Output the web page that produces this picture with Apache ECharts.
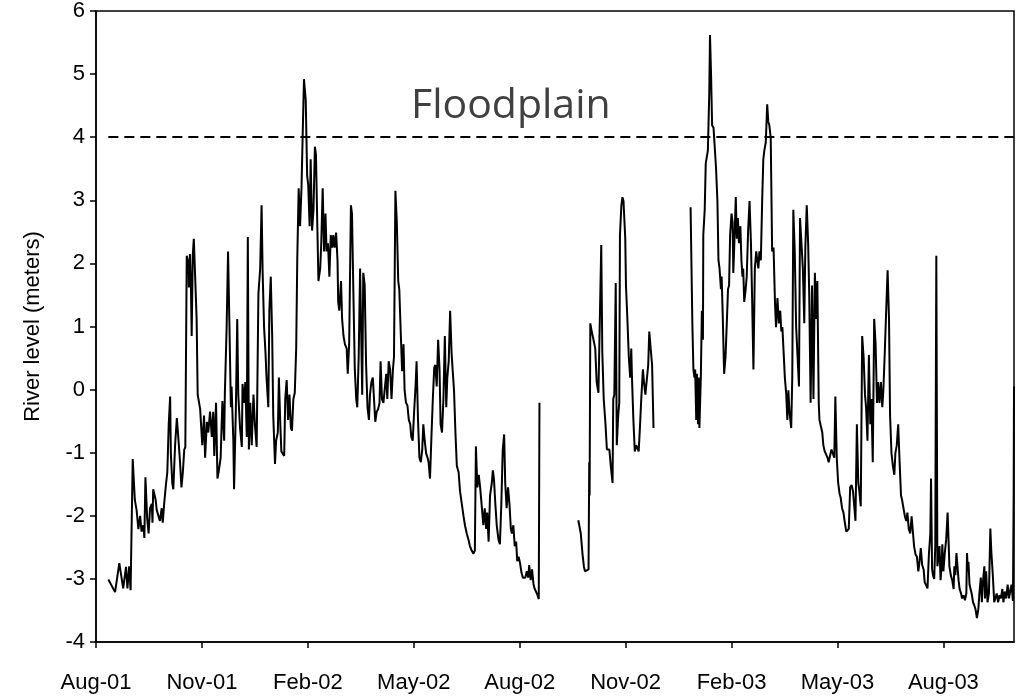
<!DOCTYPE html>
<html>
<head>
<meta charset="utf-8">
<script src="https://cdn.jsdelivr.net/npm/echarts@6/dist/echarts.min.js"></script>
<style>html,body{margin:0;padding:0;background:#fff;}#c{width:1019px;height:697px;}</style>
</head>
<body>
<div id="c"></div>
<script>
// x values: months elapsed since 1 Aug 2001; y values: river level in meters
const tickLabels = ['Aug-01','Nov-01','Feb-02','May-02','Aug-02','Nov-02','Feb-03','May-03','Aug-03'];
const floodplainLevel = 4;
const floodplainLabel = 'Floodplain';

const seg1Months = [0.35,0.54,0.66,0.77,0.85,0.89,0.94,0.98,1.04,1.10,1.15,1.20,1.25,1.29,1.34,1.37,1.40,1.45,1.49,1.53,1.58,1.60,1.62,1.67,1.69,1.72,1.77,1.81,1.86,1.89,1.93,1.98,2.02,2.06,2.10,2.12,2.16,2.19,2.24,2.29,2.33,2.38,2.42,2.46,2.50,2.53,2.57,2.62,2.63,2.66,2.69,2.71,2.74,2.77,2.80,2.85,2.88,2.95,2.97,3.01,3.06,3.09,3.14,3.18,3.23,3.28,3.32,3.35,3.40,3.44,3.48,3.53,3.58,3.63,3.65,3.70,3.74,3.78,3.82,3.84,3.89,3.91,3.96,4.00,4.03,4.08,4.13,4.15,4.19,4.23,4.27,4.30,4.33,4.37,4.41,4.46,4.50,4.55,4.60,4.65,4.69,4.72,4.76,4.80,4.83,4.88,4.91,4.95,4.99,5.02,5.07,5.10,5.15,5.18,5.22,5.25,5.29,5.33,5.36,5.40,5.44,5.48,5.52,5.55,5.59,5.63,5.67,5.70,5.74,5.78,5.82,5.86,5.89,5.94,5.98,6.01,6.05,6.08,6.12,6.16,6.20,6.23,6.27,6.30,6.35,6.38,6.42,6.46,6.50,6.53,6.57,6.61,6.65,6.69,6.72,6.76,6.80,6.84,6.86,6.89,6.94,6.97,7.01,7.05,7.10,7.13,7.17,7.22,7.25,7.29,7.33,7.37,7.40,7.44,7.48,7.51,7.54,7.57,7.61,7.65,7.69,7.73,7.76,7.80,7.84,7.88,7.91,7.95,7.99,8.03,8.06,8.10,8.14,8.18,8.22,8.25,8.29,8.33,8.37,8.41,8.44,8.48,8.52,8.56,8.59,8.63,8.67,8.71,8.74,8.78,8.82,8.86,8.90,8.93,8.97,9.01,9.05,9.08,9.12,9.16,9.20,9.24,9.27,9.31,9.35,9.39,9.42,9.46,9.50,9.54,9.58,9.61,9.65,9.69,9.73,9.76,9.80,9.84,9.88,9.92,9.95,9.99,10.03,10.07,10.10,10.14,10.18,10.22,10.27,10.31,10.36,10.41,10.45,10.50,10.55,10.59,10.64,10.69,10.73,10.76,10.80,10.84,10.88,10.92,10.97,11.01,11.05,11.08,11.12,11.16,11.21,11.24,11.27,11.31,11.35,11.40,11.44,11.48,11.52,11.56,11.59,11.63,11.67,11.71,11.75,11.78,11.82,11.86,11.90,11.93,11.97,12.01,12.05,12.09,12.12,12.16,12.20,12.24,12.27,12.31,12.35,12.39,12.42,12.46,12.50,12.54,12.56];
const seg1Level = [-3.01,-3.21,-2.75,-3.15,-2.81,-3.15,-2.80,-3.18,-1.10,-1.75,-1.91,-2.21,-2.00,-2.25,-2.15,-2.35,-1.39,-2.05,-2.28,-1.88,-1.81,-2.11,-1.58,-1.55,-1.75,-1.91,-1.88,-2.08,-1.88,-2.11,-1.81,-1.51,-1.31,-0.55,-0.11,-1.01,-1.48,-1.58,-0.88,-0.45,-0.75,-1.15,-1.55,-1.31,-0.95,-0.91,2.12,1.99,1.62,2.15,1.59,0.85,2.12,2.39,1.92,1.12,-0.08,-0.31,-0.28,-0.88,-0.41,-1.08,-0.51,-0.68,-0.35,-0.75,-0.35,-1.05,-0.21,-1.41,-1.28,-1.08,-0.18,-0.81,-0.05,0.99,2.19,0.99,-0.28,0.05,-0.81,-1.58,-0.35,1.12,-0.08,-0.61,-0.91,0.09,-0.21,0.12,-0.75,2.42,-0.95,-0.21,-0.88,-0.08,-0.55,-0.91,1.52,1.92,2.92,1.85,0.99,0.59,0.19,-0.28,1.25,1.79,0.85,-0.41,-1.18,-0.81,-0.68,0.19,-0.55,-0.98,-0.95,-1.05,-0.15,0.15,-0.48,-0.08,-0.61,-0.65,-0.15,-0.05,0.65,2.05,3.19,2.59,3.19,4.19,4.92,4.59,3.39,3.25,2.59,3.65,2.52,2.85,3.85,3.72,2.55,1.72,1.92,2.32,3.19,2.19,2.79,2.19,2.32,1.79,2.45,2.25,2.45,2.25,2.49,2.05,1.39,1.25,1.72,1.12,0.85,0.72,0.65,0.25,0.72,2.92,2.79,1.52,0.32,-0.15,-0.28,0.52,1.92,0.92,-0.08,1.85,1.65,0.39,-0.28,-0.48,-0.08,0.12,0.19,-0.21,-0.51,-0.35,-0.31,-0.21,0.45,-0.15,-0.21,-0.18,0.25,-0.15,0.45,0.32,-0.15,0.32,0.52,3.15,2.65,1.72,1.59,0.92,0.29,0.72,-0.01,-0.21,-0.25,-0.48,-0.55,-0.75,-0.81,-0.35,0.05,0.45,-0.48,-1.08,-1.15,-0.95,-0.55,-0.81,-1.01,-1.08,-1.15,-1.41,-0.75,-0.15,0.35,0.39,0.05,0.79,0.32,-0.55,-0.68,-0.15,0.85,-0.28,0.19,0.45,1.25,0.59,0.32,-0.01,-0.68,-1.21,-1.31,-1.61,-1.81,-2.01,-2.15,-2.28,-2.38,-2.48,-2.55,-2.60,-2.55,-0.90,-1.55,-1.35,-1.55,-1.81,-2.15,-1.88,-2.21,-1.95,-2.41,-1.68,-1.48,-1.28,-1.41,-1.81,-2.15,-2.38,-2.45,-1.81,-0.95,-0.71,-1.48,-1.88,-1.55,-1.81,-2.21,-2.28,-2.15,-2.48,-2.41,-2.72,-2.65,-2.75,-2.90,-2.98,-2.95,-2.98,-2.88,-2.98,-2.78,-3.02,-2.85,-3.08,-3.15,-3.20,-3.25,-3.32,-0.21];

const seg2Months = [13.66,13.73,13.78,13.82,13.85,13.90,13.95,13.97,13.98,14.00,14.04,14.09,14.14,14.18,14.23,14.28,14.31,14.34,14.38,14.43,14.47,14.50,14.54,14.58,14.63,14.65,14.68,14.72,14.75,14.79,14.82,14.84,14.88,14.91,14.94,14.99,15.01,15.05,15.09,15.13,15.16,15.18,15.22,15.26,15.30,15.33,15.37,15.41,15.44,15.49,15.52,15.56,15.60,15.64,15.67,15.71,15.75,15.79];
const seg2Level = [-2.07,-2.28,-2.61,-2.81,-2.88,-2.85,-2.85,-1.15,-1.68,1.05,0.92,0.79,0.65,0.12,-0.05,-0.08,2.29,0.59,-0.15,-0.55,-0.95,-0.98,-0.95,-1.21,-1.48,-0.15,-0.08,1.69,-0.88,-0.41,-0.21,2.45,2.92,3.05,2.99,2.39,1.65,1.12,0.52,0.19,0.65,0.19,-0.48,-0.98,-0.88,-0.88,-0.98,-0.55,-0.18,0.32,0.12,-0.08,-0.05,0.39,0.92,0.65,0.39,-0.61];

const seg3Months = [16.84,16.87,16.89,16.92,16.95,16.97,17.00,17.02,17.05,17.07,17.09,17.13,17.16,17.19,17.20,17.24,17.27,17.30,17.33,17.37,17.39,17.42,17.45,17.49,17.53,17.56,17.60,17.63,17.66,17.70,17.72,17.75,17.79,17.83,17.87,17.90,17.93,17.96,18.00,18.03,18.05,18.08,18.12,18.15,18.18,18.21,18.25,18.28,18.31,18.33,18.36,18.40,18.43,18.47,18.51,18.55,18.58,18.62,18.66,18.70,18.73,18.76,18.79,18.83,18.87,18.90,18.93,18.97,19.01,19.04,19.07,19.11,19.15,19.19,19.23,19.26,19.30,19.34,19.38,19.41,19.44,19.47,19.51,19.55,19.58,19.61,19.64,19.69,19.72,19.75,19.79,19.83,19.87,19.91,19.94,19.98,20.02,20.06,20.09,20.13,20.17,20.20,20.24,20.28,20.32,20.36,20.40,20.43,20.47,20.49,20.53,20.57,20.60,20.64,20.68,20.72,20.75,20.79,20.83,20.87,20.91,20.94,20.98,21.02,21.06,21.09,21.13,21.17,21.21,21.25,21.28,21.32,21.36,21.40,21.44,21.47,21.51,21.55,21.59,21.62,21.66,21.70,21.74,21.78,21.81,21.85,21.89,21.93,21.96,22.00,22.04,22.08,22.12,22.15,22.19,22.23,22.27,22.30,22.34,22.38,22.42,22.46,22.49,22.53,22.57,22.61,22.64,22.68,22.72,22.76,22.80,22.83,22.87,22.91,22.95,22.98,23.02,23.06,23.10,23.14,23.17,23.21,23.25,23.29,23.32,23.36,23.40,23.44,23.47,23.51,23.55,23.59,23.63,23.65,23.68,23.71,23.74,23.77,23.80,23.83,23.86,23.89,23.92,23.95,23.97,24.00,24.04,24.08,24.12,24.15,24.17,24.21,24.25,24.29,24.31,24.34,24.37,24.40,24.43,24.46,24.50,24.53,24.57,24.61,24.65,24.67,24.69,24.71,24.74,24.77,24.80,24.84,24.87,24.91,24.95,24.99,25.02,25.06,25.09,25.12,25.16,25.18,25.21,25.25,25.29,25.33,25.36,25.40,25.44,25.48,25.51,25.55,25.59,25.63,25.67,25.70,25.74,25.78,25.82,25.86,25.89,25.93,25.97,25.99,26.00];
const seg3Level = [2.89,1.79,1.05,0.32,0.19,0.32,-0.48,0.25,-0.55,0.19,-0.61,0.19,1.25,0.79,2.45,2.85,3.59,3.59,3.79,4.72,5.62,4.99,4.19,4.15,3.79,3.52,2.99,2.05,1.92,1.59,1.79,1.19,0.25,0.52,1.12,1.59,1.65,2.45,2.79,2.65,1.85,2.32,3.05,2.39,2.72,2.32,2.59,2.05,1.79,1.92,1.39,1.59,1.79,2.52,2.99,2.32,1.52,0.32,1.92,2.19,2.05,1.92,2.19,2.05,3.05,3.65,3.79,3.92,4.52,4.25,4.19,3.99,2.19,2.25,1.39,0.99,1.45,1.05,1.25,0.92,0.99,0.65,0.19,-0.08,-0.48,-0.01,-0.35,-0.61,0.19,2.85,2.19,0.99,0.52,0.05,2.72,2.32,1.92,1.05,2.25,2.92,2.32,1.52,-0.21,1.65,-0.15,1.85,1.12,1.72,-0.21,-0.48,-0.58,-0.68,-0.88,-0.98,-0.95,-1.08,-1.15,-1.15,-0.95,-0.98,-1.08,-0.11,-1.08,-1.48,-1.65,-1.71,-1.88,-1.95,-2.11,-2.25,-2.25,-2.21,-1.55,-1.51,-1.61,-1.81,-2.08,-0.55,-1.48,-1.61,-1.85,0.85,0.52,-0.08,-0.28,-0.81,0.55,-0.55,-0.15,-1.15,1.12,0.72,-0.21,0.12,-0.21,0.12,-0.28,-0.01,0.59,1.25,1.89,1.12,-0.41,-1.01,-1.21,-1.35,-1.01,-0.88,-0.55,-1.15,-1.68,-1.75,-1.75,-2.01,-2.08,-1.95,-2.21,-2.28,-2.01,-2.28,-2.48,-2.61,-2.65,-2.88,-2.75,-2.51,-2.78,-2.85,-3.05,-3.10,-3.15,-2.61,-2.28,-1.41,-2.85,-2.95,-3.00,-2.48,2.12,-2.80,-2.66,-2.48,-3.02,-2.80,-2.45,-2.88,-2.59,-2.37,-1.95,-2.45,-2.80,-2.94,-3.02,-3.16,-2.80,-2.94,-2.59,-2.80,-3.02,-3.16,-3.23,-3.31,-3.26,-3.34,-3.23,-2.59,-2.88,-2.73,-3.09,-3.16,-3.23,-3.37,-3.41,-3.48,-3.62,-3.48,-3.23,-2.98,-3.37,-3.05,-2.80,-3.31,-2.88,-3.37,-3.23,-2.20,-2.59,-2.94,-3.37,-3.34,-3.23,-3.37,-3.26,-3.31,-3.16,-3.37,-3.20,-3.31,-3.09,-3.31,-3.20,-3.09,-3.35,-1.70,0.05];

function zip(xs, ys) { return xs.map((x, i) => [x, ys[i]]); }

const chart = echarts.init(document.getElementById('c'), null, {renderer: 'canvas'});
const lineSeries = (name, xs, ys) => ({
  name, type: 'line', data: zip(xs, ys), showSymbol: false, symbol: 'none',
  lineStyle: {color: '#000', width: 2}, animation: false, z: 3
});

const axisFont = 'Liberation Sans, Arial, sans-serif';
const option = {
  animation: false,
  backgroundColor: '#fff',
  grid: {left: 96, right: 5, top: 11, bottom: 55, show: true, borderColor: '#000', borderWidth: 1.5, backgroundColor: 'transparent'},
  xAxis: {
    type: 'value', min: 0, max: 26, interval: 3,
    axisLine: {show: true, onZero: false, lineStyle: {color: '#000', width: 1.5}},
    axisTick: {show: true, inside: false, length: 6, lineStyle: {color: '#000', width: 1.5}},
    splitLine: {show: false},
    axisLabel: {
      color: '#000', fontFamily: axisFont, fontSize: 22, margin: 30,
      showMaxLabel: false,
      formatter: function (v) {
        const i = Math.round(v / 3);
        return (Math.abs(v - i * 3) < 1e-6 && tickLabels[i]) ? tickLabels[i] : '';
      }
    }
  },
  yAxis: {
    type: 'value', min: -4, max: 6, interval: 1,
    name: 'River level (meters)', nameLocation: 'middle', nameGap: 52, nameRotate: 90,
    nameTextStyle: {color: '#000', fontFamily: axisFont, fontSize: 22},
    axisLine: {show: true, onZero: false, lineStyle: {color: '#000', width: 1.5}},
    axisTick: {show: true, inside: false, length: 6, lineStyle: {color: '#000', width: 1.5}},
    splitLine: {show: false},
    axisLabel: {color: '#000', fontFamily: axisFont, fontSize: 22, margin: 11}
  },
  series: [
    Object.assign(lineSeries('seg1', seg1Months, seg1Level), {
      markLine: {
        silent: true, symbol: 'none', animation: false,
        label: {show: false},
        lineStyle: {color: '#000', width: 2, type: [10, 6]},
        data: [[{coord: [seg1Months[0], floodplainLevel]}, {coord: [26, floodplainLevel]}]]
      }
    }),
    lineSeries('seg2', seg2Months, seg2Level),
    lineSeries('seg3', seg3Months, seg3Level)
  ],
  graphic: [{
    type: 'text', left: 411, top: 86,
    style: {text: floodplainLabel, fill: '#404040', font: '41px "Open Sans", sans-serif'}
  }]
};
chart.setOption(option);
</script>
</body>
</html>
